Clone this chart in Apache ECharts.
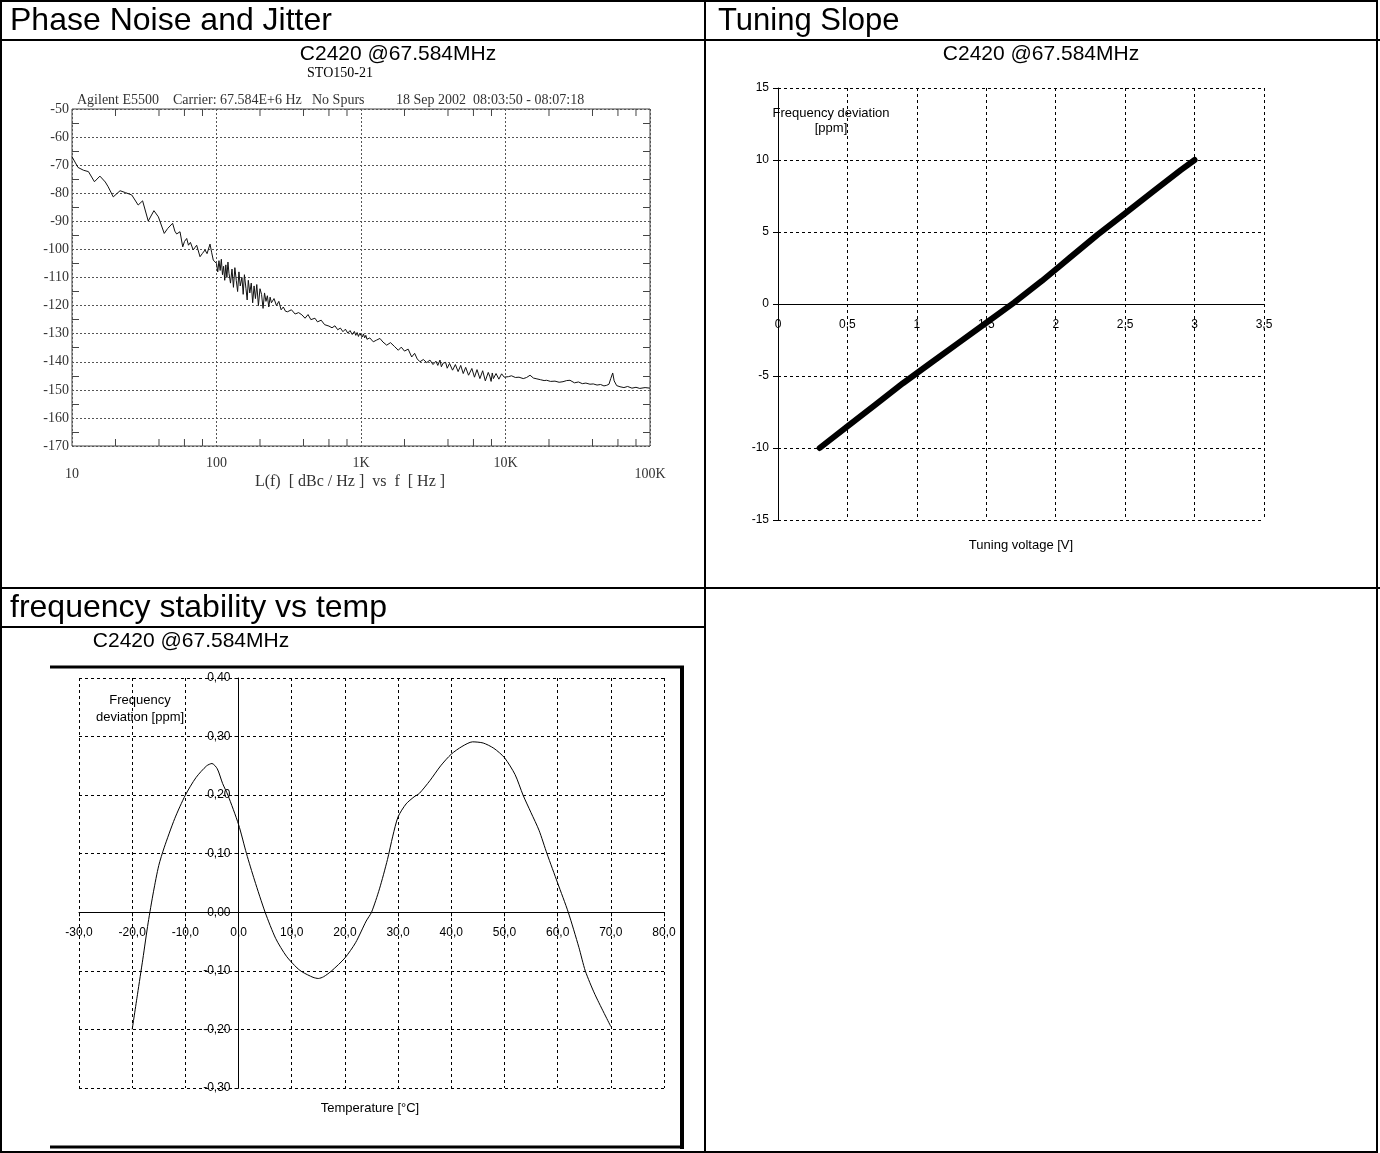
<!DOCTYPE html>
<html>
<head>
<meta charset="utf-8">
<script src="https://cdn.jsdelivr.net/npm/echarts@6/dist/echarts.min.js"></script>
<style>
  html,body{margin:0;padding:0;background:#fff;}
  #c{width:1380px;height:1153px;}
</style>
</head>
<body>
<div id="c"></div>
<script>
// ---------- Phase noise data ----------
const noiseFreq = [
  10, 11, 12, 13, 14.3, 15.6, 17, 17.8, 19.3, 21.5, 23.5, 25.9, 28.7, 30.8, 33.7, 36.9, 39.6, 43.5, 46, 49.7,
  51.5, 53, 55.9, 58.4, 60, 62.2, 64, 66, 69, 71, 72.9, 76.9, 80, 83.3, 86, 90.2, 92.5, 95, 100,
  102, 104, 106, 108, 110, 112, 114, 116, 118, 120, 122, 125, 128, 131, 134, 137, 140, 143, 146, 150,
  153, 156, 160, 163, 166, 170, 174, 178, 182, 186, 190, 195, 200, 205, 210, 215, 220, 225, 230, 235,
  240, 250, 260, 270, 280, 290, 300,
  310, 330, 350, 370, 390, 410, 430, 450, 480, 500, 530, 560,
  600, 630, 660, 690, 720, 750, 780, 810, 840, 870, 900, 920, 940, 960, 980, 1000,
  1020, 1040, 1060, 1080, 1100,
  1150, 1216, 1280, 1352, 1420, 1506, 1600, 1700, 1812, 1900, 2000, 2120, 2243, 2350, 2450, 2560, 2700, 2850,
  3000, 3150, 3300, 3400, 3520, 3600, 3700, 3850, 3950, 4000, 4100, 4200, 4300, 4400, 4500, 4594, 4700, 4800, 4900, 5000,
  5100, 5200, 5300, 5450, 5550, 5700, 5850, 5986, 6100, 6200,
  6350, 6500, 6650, 6800, 6950, 7100, 7250, 7400, 7600, 7810, 7950, 8100, 8250, 8400, 8600, 8800, 9000, 9200, 9400, 9600, 9800, 10000,
  10500, 11000, 11700, 12400, 13270, 14000, 14790, 15600, 16500, 17500, 18500, 19280, 20500, 22000, 23500,
  25000, 26500, 27950, 30000, 32000, 34000, 36000, 38420, 40500, 43000, 45500, 48000, 50120, 52000, 53500,
  55200, 56500, 58800, 62000, 66000, 70000, 75000, 80000, 85000, 92500, 100000
];
const noiseLevel = [
  -67, -70.8, -71.8, -72.3, -75.9, -73.9, -76, -77.7, -81.3, -79.1, -79.8, -80.6, -84.2, -82.7, -89.9, -86.2, -88.4, -94.3, -92.5, -90.7,
  -93.5, -94.5, -93.7, -99.1, -97.2, -96.1, -98.5, -97.5, -100.2, -99.3, -98.5, -102.6, -101.4, -100.2, -101.5, -98.1, -101, -103.8, -105,
  -108, -104, -107.5, -103.5, -109, -106, -111, -105.5, -110, -104.5, -108.5, -112, -107, -113.5, -106.5, -111, -115, -108, -113, -110,
  -116, -109, -114, -118, -111, -115.5, -112, -119, -113, -117.5, -112.5, -120, -114, -116, -121, -115.5, -118.5, -116.5, -120.5, -117,
  -119, -117.5, -120, -118.5, -121.5, -120.5, -122,
  -122.2, -121.5, -123, -122.5, -123.3, -124.5, -123.2, -125, -124.5, -125.8, -125.2, -126.8,
  -127.3, -127.9, -127.2, -128.6, -128, -129.3, -128.4, -129.8, -128.9, -130.3, -129.2, -130.6, -129.6, -131, -129.9, -130.5,
  -131.2, -130.1, -131.5, -130.6, -132,
  -131.5, -132.9, -132.3, -131.7, -133, -134.1, -133.2, -134.5, -135.9, -134.8, -136.2, -135.5, -138.3, -137, -139, -140, -139.2, -140.3,
  -139.4, -141, -139.8, -141.3, -139.4, -141.8, -140.5, -140.2, -142.3, -141.8, -140.6, -140.5, -143, -142.6, -141, -141.2, -143.5, -143, -141.3, -141.5,
  -144.2, -143.8, -142, -142, -144.8, -144.2, -142.4, -143, -145.5, -145,
  -142.8, -143.2, -146, -145.6, -143.2, -143.5, -146.8, -146.5, -143.8, -145.4, -147, -144, -146, -146.3, -144.2, -144.5, -146.2, -145.8, -144.3, -144.6, -145.5, -144.8,
  -145.3, -145, -145.6, -145.5, -146, -145.6, -144.8, -145.8, -146.1, -146.4, -146.7, -146.6, -147, -146.9, -147.3,
  -147.1, -146.7, -146.6, -147.5, -147.2, -147.8, -147.6, -148, -147.9, -148.3, -148.1, -148.6, -148.4, -148, -146,
  -144, -146.8, -148.5, -148.9, -149.2, -148.8, -149.4, -149.1, -149.5, -149.2, -149.4
];
const freqTickValues = [10, 100, 1000, 10000, 100000];
const freqTickNames = ['10', '100', '1K', '10K', '100K'];
const freqMinorTicks = [20, 40, 60, 80, 200, 400, 600, 800, 2000, 4000, 6000, 8000, 20000, 40000, 60000, 80000];

// ---------- Tuning slope data ----------
const tuneVoltage   = [0.3, 0.5, 0.7, 0.9, 1.1, 1.3, 1.5, 1.7, 1.9, 2.0, 2.1, 2.3, 2.5, 2.7, 2.9, 3.0];
const tuneDeviation = [-10, -8.5, -7.0, -5.5, -4.1, -2.7, -1.3, 0.1, 1.6, 2.4, 3.2, 4.8, 6.3, 7.8, 9.3, 10];

// ---------- Frequency vs temperature data ----------
const tempC = [-20, -19, -18, -17, -16, -15, -14, -12, -10, -8, -6, -5, -4, -3, -2, 0, 1.5, 3, 5, 7, 9, 11, 12, 14, 15, 16,
  17.5, 20, 22, 24, 25, 26.5, 28, 29, 30, 31.5, 33, 34, 36, 38, 40, 42, 44, 46, 48, 50, 52, 53.5, 55, 56.5, 58, 60, 62, 64, 65.2, 67, 70];
const tempDeviation = [-0.200, -0.140, -0.080, -0.018, 0.035, 0.080, 0.110, 0.160, 0.200, 0.230, 0.250, 0.254, 0.245, 0.220, 0.200,
  0.150, 0.100, 0.055, 0.000, -0.045, -0.075, -0.095, -0.102, -0.111, -0.113, -0.110, -0.100, -0.078, -0.052, -0.015, 0.000,
  0.040, 0.090, 0.130, 0.163, 0.185, 0.197, 0.203, 0.225, 0.250, 0.270, 0.283, 0.291, 0.289, 0.280, 0.264, 0.235, 0.200,
  0.170, 0.140, 0.100, 0.050, 0.000, -0.060, -0.100, -0.140, -0.195];

// ---------- axis ranges ----------
const tuneX = {min: 0, max: 3.5, interval: 0.5};
const tuneY = {min: -15, max: 15, interval: 5};
const tempX = {min: -30, max: 80, interval: 10};
const tempY = {min: -0.3, max: 0.4, interval: 0.1};

const SANS = 'Liberation Sans, Arial, sans-serif';
const SERIF = 'Liberation Serif, Times New Roman, serif';
const dash = {type: [3, 3], color: '#000', width: 1};

const G1 = {left: 72, top: 109, width: 578, height: 337};
const G2 = {left: 778, top: 88, width: 486, height: 432};
const G3 = {left: 79, top: 678, width: 585, height: 410};
// axes drawn through the zero value (offset from grid edge, derived from ranges)
const zeroOff = (size, r) => -size * (0 - r.min) / (r.max - r.min);

const chart = echarts.init(document.getElementById('c'));

function hLine(x1, x2, y, w) { return {type: 'line', silent: true, shape: {x1, y1: y, x2, y2: y}, style: {stroke: '#000', lineWidth: w}}; }
function vLine(x, y1, y2, w) { return {type: 'line', silent: true, shape: {x1: x, y1, x2: x, y2}, style: {stroke: '#000', lineWidth: w}}; }
function txt(x, y, text, size, font, align, color) {
  return {type: 'text', silent: true, x, y, style: {text, fontSize: size, fontFamily: font, fill: color || '#000', align: align || 'left', verticalAlign: 'middle'}};
}

const option = {
  backgroundColor: '#fff',
  animation: false,
  grid: [
    Object.assign({show: true, borderColor: '#444', borderWidth: 1, backgroundColor: 'transparent'}, G1),
    Object.assign({}, G2),
    Object.assign({}, G3)
  ],
  xAxis: [
    {
      type: 'log', logBase: 10, min: 10, max: 100000, gridIndex: 0,
      axisLine: {show: false}, axisTick: {show: false},
      splitLine: {show: true, lineStyle: {type: [2, 2], color: '#555', width: 1}},
      axisLabel: {
        margin: 10, fontFamily: SERIF, fontSize: 14, color: '#333', showMinLabel: true, showMaxLabel: true,
        formatter: function (v) {
          const i = freqTickValues.findIndex(t => Math.abs(Math.log10(t) - Math.log10(v)) < 1e-6);
          if (i < 0) return '';
          const s = freqTickNames[i];
          return (i === 0 || i === freqTickValues.length - 1) ? '{lo|' + s + '}' : s;
        },
        rich: {lo: {padding: [11, 0, 0, 0], fontFamily: SERIF, fontSize: 14, color: '#333'}}
      }
    },
    {
      type: 'value', min: tuneX.min, max: tuneX.max, interval: tuneX.interval, gridIndex: 1,
      position: 'bottom', offset: zeroOff(G2.height, tuneY),
      axisLine: {show: true, onZero: false, lineStyle: {color: '#000', width: 1}},
      axisTick: {show: false},
      splitLine: {show: true, lineStyle: dash},
      axisLabel: {margin: 15, fontFamily: SANS, fontSize: 12, color: '#000',
        formatter: v => String(v).replace('.', ',')}
    },
    {
      type: 'value', min: tempX.min, max: tempX.max, interval: tempX.interval, gridIndex: 2,
      position: 'bottom', offset: zeroOff(G3.height, tempY),
      axisLine: {show: true, onZero: false, lineStyle: {color: '#000', width: 1}},
      axisTick: {show: true, length: 4, lineStyle: {color: '#000'}},
      splitLine: {show: true, lineStyle: dash},
      axisLabel: {margin: 14, fontFamily: SANS, fontSize: 12, color: '#000',
        formatter: v => v.toFixed(1).replace('.', ',')}
    }
  ],
  yAxis: [
    {
      type: 'value', min: -170, max: -50, interval: 10, gridIndex: 0,
      axisLine: {show: false}, axisTick: {show: false, inside: true},
      minorTick: {show: true, splitNumber: 2, length: 7, lineStyle: {color: '#444'}},
      splitLine: {show: true, lineStyle: {type: [2, 2], color: '#555', width: 1}},
      axisLabel: {margin: 3, fontFamily: SERIF, fontSize: 14, color: '#333'}
    },
    {
      type: 'value', min: -170, max: -50, interval: 10, gridIndex: 0, position: 'right',
      axisLine: {show: false}, axisTick: {show: false, inside: true},
      minorTick: {show: true, splitNumber: 2, length: 7, lineStyle: {color: '#444'}},
      splitLine: {show: false}, axisLabel: {show: false}
    },
    {
      type: 'value', min: tuneY.min, max: tuneY.max, interval: tuneY.interval, gridIndex: 1,
      position: 'left', offset: zeroOff(G2.width, tuneX),
      axisLine: {show: true, onZero: false, lineStyle: {color: '#000', width: 1}},
      axisTick: {show: true, length: 5, lineStyle: {color: '#000'}},
      splitLine: {show: true, lineStyle: dash},
      axisLabel: {margin: 9, fontFamily: SANS, fontSize: 12, color: '#000'}
    },
    {
      type: 'value', min: tempY.min, max: tempY.max, interval: tempY.interval, gridIndex: 2,
      position: 'left', offset: zeroOff(G3.width, tempX),
      axisLine: {show: true, onZero: false, lineStyle: {color: '#000', width: 1}},
      axisTick: {show: true, length: 4, lineStyle: {color: '#000'}},
      splitLine: {show: true, lineStyle: dash},
      axisLabel: {margin: 8, fontFamily: SANS, fontSize: 12, color: '#000',
        formatter: v => v.toFixed(2).replace('.', ',')}
    }
  ],
  series: [
    {
      type: 'line', xAxisIndex: 0, yAxisIndex: 0, showSymbol: false, symbol: 'none',
      lineStyle: {color: '#111', width: 1},
      data: noiseFreq.map((f, i) => [f, noiseLevel[i]])
    },
    {
      type: 'custom', xAxisIndex: 0, yAxisIndex: 0, silent: true, clip: false,
      data: freqMinorTicks.map(f => [f, -170]),
      encode: {x: 0, y: 1},
      renderItem: function (params, api) {
        const f = api.value(0);
        const b = api.coord([f, -170]);
        const t = api.coord([f, -50]);
        return {type: 'group', children: [
          {type: 'line', shape: {x1: b[0], y1: b[1], x2: b[0], y2: b[1] - 7}, style: {stroke: '#444', lineWidth: 1}},
          {type: 'line', shape: {x1: t[0], y1: t[1], x2: t[0], y2: t[1] + 7}, style: {stroke: '#444', lineWidth: 1}}
        ]};
      }
    },
    {
      type: 'line', xAxisIndex: 1, yAxisIndex: 2, showSymbol: false, symbol: 'none',
      lineStyle: {color: '#000', width: 6, cap: 'round'},
      data: tuneVoltage.map((v, i) => [v, tuneDeviation[i]])
    },
    {
      type: 'line', xAxisIndex: 2, yAxisIndex: 3, showSymbol: false, symbol: 'none', smooth: 0.25,
      lineStyle: {color: '#000', width: 1},
      data: tempC.map((t, i) => [t, tempDeviation[i]])
    }
  ],
  graphic: [
    // table
    {type: 'rect', silent: true, shape: {x: 1, y: 1, width: 1376, height: 1151}, style: {fill: null, stroke: '#000', lineWidth: 2}},
    vLine(705, 0, 1153, 2),
    hLine(0, 1380, 40, 2),
    hLine(0, 1380, 588, 2),
    hLine(0, 705, 627, 2),
    // headers
    txt(10, 21, 'Phase Noise and Jitter', 32, SANS),
    txt(718, 21, 'Tuning Slope', 31, SANS),
    txt(10, 608, 'frequency stability vs temp', 32, SANS),
    // phase noise texts
    txt(398, 54, 'C2420 @67.584MHz', 21, SANS, 'center'),
    txt(340, 73, 'STO150-21', 14, SERIF, 'center'),
    txt(77, 100, 'Agilent E5500', 14, SERIF, 'left', '#333'),
    txt(173, 100, 'Carrier: 67.584E+6 Hz', 14, SERIF, 'left', '#333'),
    txt(312, 100, 'No Spurs', 14, SERIF, 'left', '#333'),
    txt(396, 100, '18 Sep 2002  08:03:50 - 08:07:18', 14, SERIF, 'left', '#333'),
    txt(350, 482, 'L(f)  [ dBc / Hz ]  vs  f  [ Hz ]', 16, SERIF, 'center', '#333'),
    // tuning texts
    txt(1041, 54, 'C2420 @67.584MHz', 21, SANS, 'center'),
    txt(831, 113, 'Frequency deviation', 13, SANS, 'center'),
    txt(831, 128, '[ppm]', 13, SANS, 'center'),
    txt(1021, 545, 'Tuning voltage [V]', 13, SANS, 'center'),
    // temperature texts
    txt(191, 641, 'C2420 @67.584MHz', 21, SANS, 'center'),
    txt(140, 700, 'Frequency', 13, SANS, 'center'),
    txt(140, 717, 'deviation [ppm]', 13, SANS, 'center'),
    txt(370, 1108, 'Temperature [°C]', 13, SANS, 'center'),
    // temperature chart frame
    hLine(50, 684, 667, 3),
    vLine(682, 666, 1149, 4),
    hLine(50, 684, 1147, 3)
  ]
};
chart.setOption(option);
</script>
</body>
</html>
